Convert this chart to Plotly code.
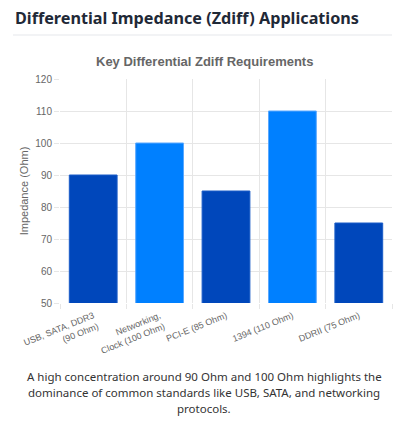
import plotly.graph_objects as go

# data
standards = [
    "USB, SATA, DDR3<br>(90 Ohm)",
    "Networking,<br>Clock (100 Ohm)",
    "PCI-E (85 Ohm)",
    "1394 (110 Ohm)",
    "DDRII (75 Ohm)",
]
impedance = [90, 100, 85, 110, 75]
bar_colors = ["#0047BB", "#0080FF", "#0047BB", "#0080FF", "#0047BB"]
edge_colors = ["#1a5cc8", "#5aa8ff", "#1a5cc8", "#5aa8ff", "#1a5cc8"]

# the page body has an 8px margin, so the figure is laid out 8px in from the window
OFF = 8
W, H = 408 - OFF, 422 - OFF
L, R, T, B = 60 - OFF, W - (392 - OFF), 79 - OFF, H - (303 - OFF)
pw = W - L - R
ph = H - T - B


def px(x):
    return (x - OFF - L) / pw


def py(y):
    return (H - B - (y - OFF)) / ph


fig = go.Figure()
fig.add_trace(go.Bar(
    x=standards,
    y=impedance,
    marker=dict(color=bar_colors, line=dict(color=edge_colors, width=1)),
    hoverinfo="x+y",
))

grid = "#e6e6e6"
tickfont = dict(family="Liberation Sans, Arial, sans-serif", size=10, color="#666")

fig.update_layout(
    width=W,
    height=H,
    margin=dict(l=L, r=R, t=T, b=B, autoexpand=False),
    paper_bgcolor="white",
    plot_bgcolor="white",
    bargap=0.28,
    showlegend=False,
    xaxis=dict(
        type="category",
        automargin=False,
        tickson="boundaries",
        showgrid=True,
        gridcolor=grid,
        gridwidth=1,
        ticks="outside",
        ticklen=5,
        tickcolor=grid,
        tickangle=-22,
        ticklabelstandoff=5,
        tickfont=dict(family="Liberation Sans, Arial, sans-serif", size=9, color="#666"),
        showline=False,
        zeroline=False,
    ),
    yaxis=dict(
        range=[50, 120],
        dtick=10,
        automargin=False,
        showgrid=True,
        gridcolor=grid,
        ticks="outside",
        ticklen=5,
        tickcolor=grid,
        tickfont=tickfont,
        zeroline=False,
        title=dict(text="Impedance (Ohm)", standoff=4,
                   font=dict(family="Liberation Sans, Arial, sans-serif", size=11, color="#666")),
    ),
)

# page heading, rule and chart title
fig.add_annotation(
    text="<b>Differential Impedance (Zdiff) Applications</b>",
    xref="paper", yref="paper", x=px(13), y=py(18),
    xanchor="left", yanchor="middle", showarrow=False,
    font=dict(family="Noto Sans, sans-serif", size=16.2, color="#1f2937"),
)
fig.add_shape(
    type="line", xref="paper", yref="paper",
    x0=px(13), x1=px(392), y0=py(35), y1=py(35),
    line=dict(color="#e5e7eb", width=1),
)
fig.add_annotation(
    text="<b>Key Differential Zdiff Requirements</b>",
    xref="paper", yref="paper", x=px(204), y=py(62),
    xanchor="center", yanchor="middle", showarrow=False,
    font=dict(family="Liberation Sans, Arial, sans-serif", size=13, color="#666"),
)

# caption
caption = [
    "A high concentration around 90 Ohm and 100 Ohm highlights the",
    "dominance of common standards like USB, SATA, and networking",
    "protocols.",
]
for i, line in enumerate(caption):
    fig.add_annotation(
        text=line,
        xref="paper", yref="paper", x=px(204), y=py(376 + 16 * i),
        xanchor="center", yanchor="middle", showarrow=False,
        font=dict(family="Noto Sans, sans-serif", size=11.5, color="#333"),
    )

fig.write_html("out.html")
